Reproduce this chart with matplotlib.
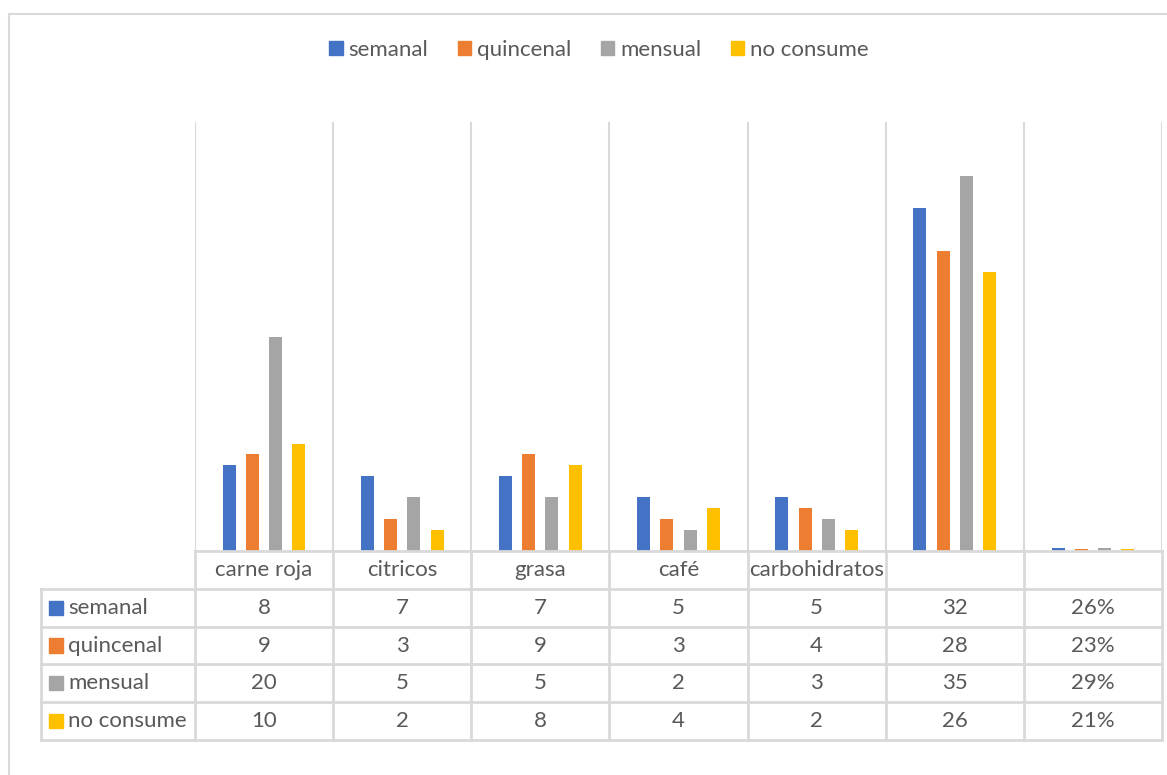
import matplotlib.pyplot as plt
from matplotlib.patches import Patch, Rectangle
from matplotlib.lines import Line2D
import numpy as np

# Datos de consumo por frecuencia
categorias = ['carne roja', 'citricos', 'grasa', 'café', 'carbohidratos', '', '']
series = ['semanal', 'quincenal', 'mensual', 'no consume']
semanal = [8, 7, 7, 5, 5, 32, 0.26]
quincenal = [9, 3, 9, 3, 4, 28, 0.23]
mensual = [20, 5, 5, 2, 3, 35, 0.29]
no_consume = [10, 2, 8, 4, 2, 26, 0.21]
colores = ['#4472C4', '#ED7D31', '#A5A5A5', '#FFC000']
valores = [semanal, quincenal, mensual, no_consume]

texto = '#595959'
linea = '#d9d9d9'
plt.rcParams['font.family'] = ['Lato', 'DejaVu Sans']

W, H = 1167, 775
fig = plt.figure(figsize=(W / 100, H / 100), dpi=100)

def caja(x0, y0, x1, y1):
    return [x0 / W, 1 - y1 / H, (x1 - x0) / W, (y1 - y0) / H]

# borde del gráfico
fig.add_artist(Line2D([9 / W, 9 / W], [0, 1 - 14 / H], color=linea, lw=1.5))
fig.add_artist(Line2D([9 / W, 1], [1 - 14 / H, 1 - 14 / H], color=linea, lw=1.5))

# barras
ax = fig.add_axes(caja(195, 122, 1162, 551))
n = len(categorias)
x = np.arange(n) + 0.5
offs = np.array([-1.5, -0.5, 0.5, 1.5]) * 0.168
for vals, off, c in zip(valores, offs, colores):
    ax.bar(x + off, vals, width=0.094, color=c, zorder=3)
ax.set_xlim(0, n)
ax.set_ylim(0, 40)
for i in range(n + 1):
    ax.axvline(i, color=linea, lw=1.5, zorder=1)
ax.set_xticks([])
ax.set_yticks([])
for s in ax.spines.values():
    s.set_visible(False)

# tabla de datos
cw = (1162 - 195) / n
izq = -(195 - 41) / cw
tb = fig.add_axes(caja(41, 551, 1162, 740))
tb.set_xlim(izq, n)
tb.set_ylim(5, 0)
tb.axis('off')
lw = 2
# líneas horizontales
tb.plot([0, n], [0, 0], color=linea, lw=lw, clip_on=False)
for r in range(1, 6):
    tb.plot([izq, n], [r, r], color=linea, lw=lw, clip_on=False)
# líneas verticales
tb.plot([izq, izq], [1, 5], color=linea, lw=lw, clip_on=False)
for i in range(n + 1):
    tb.plot([i, i], [0, 5], color=linea, lw=lw, clip_on=False)

fs = 16
for i, cat in enumerate(categorias):
    tb.text(i + 0.5, 0.5, cat, ha='center', va='center', color=texto, fontsize=fs)
for r, (nombre, vals, c) in enumerate(zip(series, valores, colores)):
    y = r + 1.5
    tb.add_patch(Rectangle((izq + 8 / cw, y - 0.19), 14 / cw, 0.38, color=c, clip_on=False))
    tb.text(izq + 27 / cw, y, nombre, ha='left', va='center', color=texto, fontsize=fs)
    for i, v in enumerate(vals):
        etiqueta = f'{v:.0%}' if i == n - 1 else f'{v:g}'
        tb.text(i + 0.5, y, etiqueta, ha='center', va='center', color=texto, fontsize=fs)

# leyenda superior
handles = [Patch(color=c, label=s) for s, c in zip(series, colores)]
fig.legend(handles=handles, loc='center', bbox_to_anchor=(599 / W, 1 - 50 / H), ncol=4,
           frameon=False, handlelength=0.6, handleheight=0.6, handletextpad=0.25,
           columnspacing=1.35, fontsize=fs, labelcolor=texto)

fig.savefig('out.png', dpi=100)
